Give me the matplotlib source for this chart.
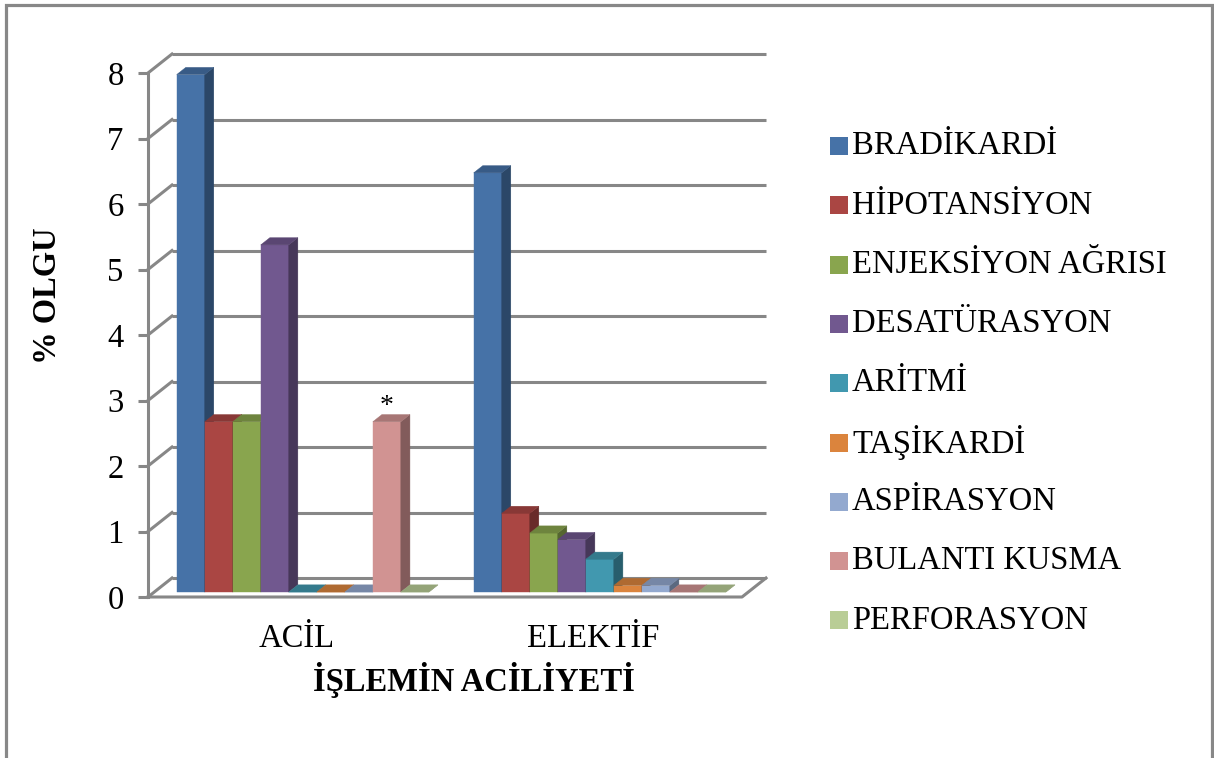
import matplotlib
matplotlib.use("Agg")
import matplotlib.pyplot as plt
from matplotlib.patches import Polygon, Rectangle
import matplotlib.colors as mcolors

# ---------------------------------------------------------------- data
categories = ["ACİL", "ELEKTİF"]
series_names = ["BRADİKARDİ", "HİPOTANSİYON", "ENJEKSİYON AĞRISI",
                "DESATÜRASYON", "ARİTMİ", "TAŞİKARDİ", "ASPİRASYON",
                "BULANTI KUSMA", "PERFORASYON"]
acil = [7.9, 2.6, 2.6, 5.3, 0.0, 0.0, 0.0, 2.6, 0.0]
elektif = [6.4, 1.2, 0.9, 0.8, 0.5, 0.1, 0.1, 0.0, 0.0]
series_colors = ["#4672A7", "#AA4643", "#89A54E", "#71588F", "#4198AF",
                 "#DB843D", "#93A9CF", "#D19392", "#B9CD96"]
y_ticks = [0, 1, 2, 3, 4, 5, 6, 7, 8]
starred = ("ACİL", "BULANTI KUSMA")

y_title = "% OLGU"
x_title = "İŞLEMİN ACİLİYETİ"

# ---------------------------------------------------------------- styling
plt.rcParams["font.family"] = ["Liberation Serif", "DejaVu Serif"]
GRAY = "#878787"
LW = 2.2
FS = 23.5

W_PX, H_PX, DPI = 1214, 758, 100
ORIGIN_PX = (148, 597)        # front-left corner of the floor
SLOT_PX = 28.02               # width of one bar slot
UNIT_PX = 65.5                # one percent on the value axis
DEPTH_PX = (24, 19)           # oblique offset of the full chart depth
CAT_W = 10.6                  # slots per category
BAR_F0, BAR_F1 = 0.26, 0.64   # bar front / back as a fraction of depth

fig = plt.figure(figsize=(W_PX / DPI, H_PX / DPI), dpi=DPI)
ax = fig.add_axes([0, 0, 1, 1])
ax.set_xlim(-ORIGIN_PX[0] / SLOT_PX, (W_PX - ORIGIN_PX[0]) / SLOT_PX)
ax.set_ylim(-(H_PX - ORIGIN_PX[1]) / UNIT_PX, ORIGIN_PX[1] / UNIT_PX)
ax.set_facecolor("white")

DX = DEPTH_PX[0] / SLOT_PX
DY = DEPTH_PX[1] / UNIT_PX


def proj(x, y, d):
    """Oblique projection of a point at depth fraction d."""
    return (x + d * DX, y + d * DY)


def shade(color, k):
    r, g, b = mcolors.to_rgb(color)
    return (r * k, g * k, b * k)


def fig_xy(px, py):
    return px / W_PX, 1 - py / H_PX


n_series = len(series_names)
full_w = CAT_W * len(categories)
ymax = y_ticks[-1]

# ---------------------------------------------------------------- walls
for v in y_ticks:
    x0, y0 = proj(0, v, 1)
    x1, _ = proj(full_w, v, 1)
    ax.plot([x0, x1], [y0, y0], color=GRAY, lw=LW, zorder=1,
            solid_capstyle="butt")
    fx, fy = proj(0, v, 0)
    ax.plot([fx, x0], [fy, y0], color=GRAY, lw=LW, zorder=1)

# floor front and right edges
pts = [proj(0, 0, 0), proj(full_w, 0, 0), proj(full_w, 0, 1)]
ax.plot([p[0] for p in pts], [p[1] for p in pts], color=GRAY, lw=LW,
        zorder=1)

# ---------------------------------------------------------------- bars
z = 3.0
for ci, vals in enumerate([acil, elektif]):
    start = ci * CAT_W + (CAT_W - n_series) / 2
    for j, v in enumerate(vals):
        x = start + j
        col = series_colors[j]
        bx, by = proj(x, 0, BAR_F0)
        ax.bar(bx, v, width=1, bottom=by, align="edge", color=col,
               edgecolor=col, linewidth=0.3, zorder=z)
        side = [proj(x + 1, 0, BAR_F0), proj(x + 1, 0, BAR_F1),
                proj(x + 1, v, BAR_F1), proj(x + 1, v, BAR_F0)]
        ax.add_patch(Polygon(side, closed=True, facecolor=shade(col, 0.62),
                             edgecolor=shade(col, 0.62), lw=0.3,
                             zorder=z + 0.001))
        top = [proj(x, v, BAR_F0), proj(x + 1, v, BAR_F0),
               proj(x + 1, v, BAR_F1), proj(x, v, BAR_F1)]
        ax.add_patch(Polygon(top, closed=True, facecolor=shade(col, 0.8),
                             edgecolor=shade(col, 0.8), lw=0.3,
                             zorder=z + 0.002))
        if (categories[ci], series_names[j]) == starred:
            tx, ty = proj(x + 0.5, v, BAR_F0)
            ax.annotate("*", xy=(tx, ty), xytext=(0, 2),
                        textcoords="offset points", ha="center",
                        va="bottom", fontsize=20, zorder=z + 0.003)
        z += 0.01

# ---------------------------------------------------------------- axes
for name in ("top", "right"):
    ax.spines[name].set_visible(False)
ax.spines["left"].set_position(("data", 0))
ax.spines["left"].set_bounds(0, ymax)
ax.spines["left"].set_color(GRAY)
ax.spines["left"].set_linewidth(LW)
ax.spines["left"].set_zorder(2)
ax.spines["bottom"].set_position(("data", 0))
ax.spines["bottom"].set_color("none")

ax.set_yticks(y_ticks)
ax.set_yticklabels([str(t) for t in y_ticks])
ax.tick_params(axis="y", direction="out", length=7.5, width=LW,
               color=GRAY, pad=10, labelsize=FS)

centers = [ci * CAT_W + CAT_W / 2 for ci in range(len(categories))]
ax.set_xticks(centers)
ax.set_xticklabels(categories)
ax.tick_params(axis="x", length=0, pad=19, labelsize=FS)

# axis titles
fig.text(*fig_xy(47, 296), y_title, rotation=90, ha="center", va="center",
         fontsize=FS, fontweight="bold")
fig.text(*fig_xy(474, 680), x_title, ha="center", va="center",
         fontsize=FS, fontweight="bold")

# ---------------------------------------------------------------- legend
for i, (name, col) in enumerate(zip(series_names, series_colors)):
    cy = 146 + 59.3 * i
    lx, ly = fig_xy(830, cy + 9)
    fig.patches.append(Rectangle((lx, ly), 18 / W_PX, 18 / H_PX,
                                 transform=fig.transFigure, facecolor=col,
                                 edgecolor="none"))
    fig.text(*fig_xy(852, cy), name, ha="left", va="center", fontsize=FS)

# outer border of the chart area
bx0, by0 = fig_xy(5.5, 770)
bx1, by1 = fig_xy(1211.5, 4.5)
fig.patches.append(Rectangle((bx0, by0), bx1 - bx0, by1 - by0,
                             transform=fig.transFigure, facecolor="none",
                             edgecolor="#888888", linewidth=2.3,
                             clip_on=False))

fig.savefig("out.png", dpi=DPI)
